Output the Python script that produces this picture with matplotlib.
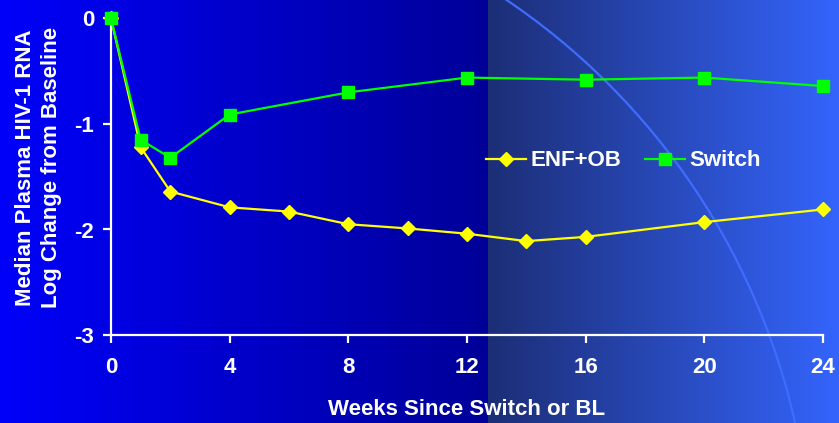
import matplotlib
matplotlib.use("Agg")
import matplotlib.pyplot as plt
from matplotlib.patches import Circle
import numpy as np

plt.rcParams["font.family"] = ["Liberation Sans", "DejaVu Sans"]
plt.rcParams["font.weight"] = "bold"
plt.rcParams["axes.unicode_minus"] = False

# median log change in plasma HIV-1 RNA from baseline
enf_weeks = [0, 1, 2, 4, 6, 8, 10, 12, 14, 16, 20, 24]
enf_values = [0, -1.22, -1.64, -1.79, -1.83, -1.95, -1.99, -2.04, -2.11, -2.07, -1.93, -1.81]

switch_weeks = [0, 1, 2, 4, 8, 12, 16, 20, 24]
switch_values = [0, -1.15, -1.32, -0.91, -0.70, -0.56, -0.58, -0.56, -0.64]

x_ticks = [0, 4, 8, 12, 16, 20, 24]
y_ticks = [0, -1, -2, -3]

W, H = 839, 423


def background():
    img = np.zeros((H, W, 3))
    split = 488
    left = np.linspace(0, 1, split)[:, None]
    c0, c1 = np.array([0, 0, 250]), np.array([0, 0, 152])
    img[:, :split] = (c0 + (c1 - c0) * left)[None, :, :] / 255
    right = np.linspace(0, 1, W - split)[:, None]
    c2, c3 = np.array([28, 46, 118]), np.array([52, 100, 252])
    img[:, split:] = (c2 + (c3 - c2) * right)[None, :, :] / 255
    return img


def main():
    fig = plt.figure(figsize=(W / 100, H / 100), dpi=100)

    bg = fig.add_axes([0, 0, 1, 1])
    bg.imshow(background(), extent=[0, W, H, 0], aspect="auto")
    bg.add_patch(Circle((118, 575), 694, fill=False, edgecolor="#3f6cff", lw=1.6))
    bg.set_xlim(0, W)
    bg.set_ylim(H, 0)
    bg.axis("off")

    ax = fig.add_axes([111 / W, (H - 335) / H, (823 - 111) / W, (335 - 18.5) / H])
    ax.patch.set_alpha(0)

    ax.plot(enf_weeks, enf_values, color="#ffff00", lw=1.6, marker="D",
            markersize=7.5, label="ENF+OB", clip_on=False, zorder=3)
    ax.plot(switch_weeks, switch_values, color="#00ff00", lw=1.6, marker="s",
            markersize=8.5, label="Switch", clip_on=False, zorder=4)

    ax.set_xlim(0, 24)
    ax.set_ylim(-3, 0)
    ax.set_xticks(x_ticks)
    ax.set_yticks(y_ticks)
    for side in ["top", "right"]:
        ax.spines[side].set_visible(False)
    for side in ["left", "bottom"]:
        ax.spines[side].set_color("white")
        ax.spines[side].set_linewidth(1.6)
    ax.tick_params(colors="white", width=1.6, length=6, labelsize=16)
    ax.tick_params(axis="x", pad=10)
    ax.tick_params(axis="y", pad=6)
    for lab in ax.get_xticklabels() + ax.get_yticklabels():
        lab.set_fontweight("bold")

    ax.set_xlabel("Weeks Since Switch or BL", color="white", fontsize=16,
                  fontweight="bold", labelpad=15)
    ax.set_ylabel("Median Plasma HIV-1 RNA\nLog Change from Baseline", color="white",
                  fontsize=16, fontweight="bold", labelpad=9, linespacing=1.3,
                  y=0.53)

    leg = ax.legend(loc="center left", bbox_to_anchor=(0.498, 0.55), ncol=2,
                    frameon=False, fontsize=16, handlelength=1.8, columnspacing=1.1,
                    handletextpad=0.2)
    for t in leg.get_texts():
        t.set_color("white")
        t.set_fontweight("bold")

    fig.savefig("out.png", dpi=100)


if __name__ == "__main__":
    main()
